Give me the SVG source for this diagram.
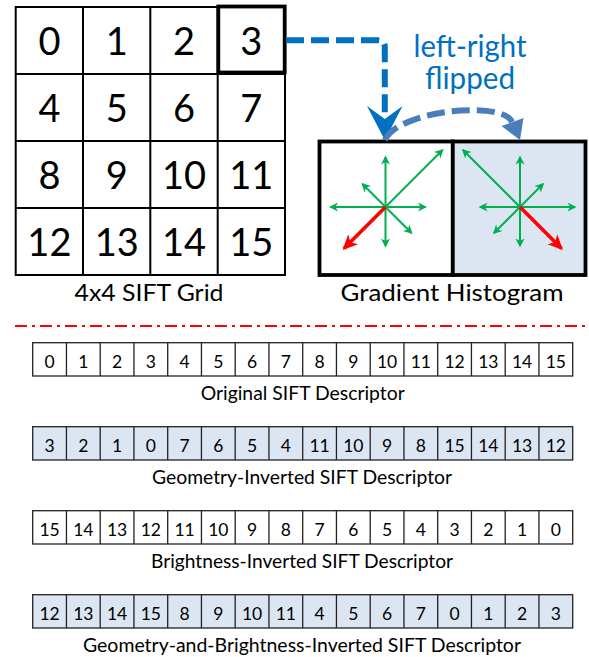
<svg xmlns="http://www.w3.org/2000/svg" width="589" height="657" viewBox="0 0 589 657">
<style>
  .t { font-family: Lato, "Open Sans", "Liberation Sans", sans-serif; fill: #000; text-anchor: middle; }
  .gd { font-size: 38px; }
  .lbl { font-size: 24px; }
  .dd { font-size: 17.5px; }
  .dl { font-size: 18.5px; }
  .blue { fill: #0070c0; font-size: 30px; }
  .gl { fill: none; stroke: #000; stroke-width: 2; }
  .cell { stroke: #222; stroke-width: 1.3; }
  .w { fill: #fff; }
  .b { fill: #dce6f2; }
  .g { stroke: #00b050; stroke-width: 2; marker-end: url(#gh); }
  .r { stroke: #ff0000; stroke-width: 3.5; marker-end: url(#rh); }
</style>
<defs>
  <marker id="gh" markerUnits="userSpaceOnUse" viewBox="-10 -6 13 12" markerWidth="13" markerHeight="12" refX="0" refY="0" orient="auto">
    <path d="M1.5,0 L-7.5,-4.5 L-5,0 L-7.5,4.5 Z" fill="#00b050"/>
  </marker>
  <marker id="rh" markerUnits="userSpaceOnUse" viewBox="-16 -9 20 18" markerWidth="20" markerHeight="18" refX="0" refY="0" orient="auto">
    <path d="M2,0 L-13,-7 L-9,0 L-13,7 Z" fill="#ff0000"/>
  </marker>
</defs>
<rect width="589" height="657" fill="#fff"/>

<g id="sift-grid">
  <rect x="15.7" y="7" width="269.3" height="268" class="gl"/>
  <path d="M83,7 V275 M150.3,7 V275 M217.7,7 V275 M15.7,74 H285 M15.7,141 H285 M15.7,208 H285" class="gl"/>
  <rect x="218.3" y="6.5" width="66.4" height="66" fill="none" stroke="#000" stroke-width="3.8"/>
  <g class="t gd">
    <text x="49.4" y="54.5">0</text><text x="116.7" y="54.5">1</text><text x="184" y="54.5">2</text><text x="251.3" y="54.5">3</text>
    <text x="49.4" y="121.5">4</text><text x="116.7" y="121.5">5</text><text x="184" y="121.5">6</text><text x="251.3" y="121.5">7</text>
    <text x="49.4" y="188.5">8</text><text x="116.7" y="188.5">9</text><text x="184" y="188.5">10</text><text x="251.3" y="188.5">11</text>
    <text x="49.4" y="255.5">12</text><text x="116.7" y="255.5">13</text><text x="184" y="255.5">14</text><text x="251.3" y="255.5">15</text>
  </g>
  <text class="t lbl" x="149" y="301" textLength="149" lengthAdjust="spacingAndGlyphs">4x4 SIFT Grid</text>
</g>

<g id="hist-left">
  <rect x="319.5" y="141.5" width="133.3" height="133.5" fill="#fff" stroke="#000" stroke-width="3.8"/>
  <line x1="385.5" y1="207" x2="385.5" y2="157" class="g"/>
  <line x1="385.5" y1="207" x2="385.5" y2="246" class="g"/>
  <line x1="385.5" y1="207" x2="330.5" y2="207" class="g"/>
  <line x1="385.5" y1="207" x2="425.5" y2="207" class="g"/>
  <line x1="385.5" y1="207" x2="442.5" y2="150" class="g"/>
  <line x1="385.5" y1="207" x2="362.5" y2="184" class="g"/>
  <line x1="385.5" y1="207" x2="411.5" y2="233" class="g"/>
  <line x1="385.5" y1="207" x2="344" y2="248.5" class="r"/>
</g>

<g id="hist-right">
  <rect x="452.8" y="141.5" width="132.7" height="133.5" fill="#dce6f2" stroke="#000" stroke-width="3.8"/>
  <line x1="520" y1="207" x2="520" y2="157" class="g"/>
  <line x1="520" y1="207" x2="520" y2="246" class="g"/>
  <line x1="520" y1="207" x2="575" y2="207" class="g"/>
  <line x1="520" y1="207" x2="480" y2="207" class="g"/>
  <line x1="520" y1="207" x2="463" y2="150" class="g"/>
  <line x1="520" y1="207" x2="543" y2="184" class="g"/>
  <line x1="520" y1="207" x2="494" y2="233" class="g"/>
  <line x1="520" y1="207" x2="561.5" y2="248.5" class="r"/>
</g>
<text id="hist-label" class="t lbl" x="452" y="301" textLength="223" lengthAdjust="spacingAndGlyphs">Gradient Histogram</text>

<g id="flip-label" class="t blue">
  <text x="470" y="56.5" textLength="113" lengthAdjust="spacingAndGlyphs">left-right</text>
  <text x="470" y="89" textLength="90" lengthAdjust="spacingAndGlyphs">flipped</text>
</g>

<g id="connectors">
  <path d="M286,40.3 H378 Q384.8,40.3 384.8,47 V119" fill="none" stroke="#0070c0" stroke-width="6" stroke-dasharray="18 7"/>
  <polygon points="384.8,140 367,106 384.8,119 402.6,106" fill="#0070c0"/>
  <path d="M385,140 C398,110 503,100 512,122" fill="none" stroke="#4a7ebb" stroke-width="6" stroke-dasharray="18 7"/>
  <polygon points="520,140 523.5,118 501.5,126" fill="#4a7ebb"/>
  <line x1="15" y1="326" x2="589" y2="326" stroke="#ff0000" stroke-width="2" stroke-dasharray="12 5 3 5"/>
</g>

<g id="desc-original">
  <rect x="32.7" y="342.7" width="540" height="33.3" class="cell w"/>
  <path d="M66.45,342.7V376M100.2,342.7V376M133.95,342.7V376M167.7,342.7V376M201.45,342.7V376M235.2,342.7V376M268.95,342.7V376M302.7,342.7V376M336.45,342.7V376M370.2,342.7V376M403.95,342.7V376M437.7,342.7V376M471.45,342.7V376M505.2,342.7V376M538.95,342.7V376" class="cell"/>
  <g class="t dd">
    <text x="49.6" y="367.5">0</text><text x="83.3" y="367.5">1</text><text x="117.1" y="367.5">2</text><text x="150.8" y="367.5">3</text>
    <text x="184.6" y="367.5">4</text><text x="218.3" y="367.5">5</text><text x="252.1" y="367.5">6</text><text x="285.8" y="367.5">7</text>
    <text x="319.6" y="367.5">8</text><text x="353.3" y="367.5">9</text><text x="387.1" y="367.5">10</text><text x="420.8" y="367.5">11</text>
    <text x="454.6" y="367.5">12</text><text x="488.3" y="367.5">13</text><text x="522.1" y="367.5">14</text><text x="555.8" y="367.5">15</text>
  </g>
  <text class="t dl" x="302.7" y="399.7" textLength="204" lengthAdjust="spacingAndGlyphs">Original SIFT Descriptor</text>
</g>

<g id="desc-geometry">
  <rect x="32.7" y="426.7" width="540" height="33.3" class="cell b"/>
  <path d="M66.45,426.7V460M100.2,426.7V460M133.95,426.7V460M167.7,426.7V460M201.45,426.7V460M235.2,426.7V460M268.95,426.7V460M302.7,426.7V460M336.45,426.7V460M370.2,426.7V460M403.95,426.7V460M437.7,426.7V460M471.45,426.7V460M505.2,426.7V460M538.95,426.7V460" class="cell"/>
  <g class="t dd">
    <text x="49.6" y="451.5">3</text><text x="83.3" y="451.5">2</text><text x="117.1" y="451.5">1</text><text x="150.8" y="451.5">0</text>
    <text x="184.6" y="451.5">7</text><text x="218.3" y="451.5">6</text><text x="252.1" y="451.5">5</text><text x="285.8" y="451.5">4</text>
    <text x="319.6" y="451.5">11</text><text x="353.3" y="451.5">10</text><text x="387.1" y="451.5">9</text><text x="420.8" y="451.5">8</text>
    <text x="454.6" y="451.5">15</text><text x="488.3" y="451.5">14</text><text x="522.1" y="451.5">13</text><text x="555.8" y="451.5">12</text>
  </g>
  <text class="t dl" x="302" y="483.7" textLength="300" lengthAdjust="spacingAndGlyphs">Geometry-Inverted SIFT Descriptor</text>
</g>

<g id="desc-brightness">
  <rect x="32.7" y="510.7" width="540" height="33.3" class="cell w"/>
  <path d="M66.45,510.7V544M100.2,510.7V544M133.95,510.7V544M167.7,510.7V544M201.45,510.7V544M235.2,510.7V544M268.95,510.7V544M302.7,510.7V544M336.45,510.7V544M370.2,510.7V544M403.95,510.7V544M437.7,510.7V544M471.45,510.7V544M505.2,510.7V544M538.95,510.7V544" class="cell"/>
  <g class="t dd">
    <text x="49.6" y="535.5">15</text><text x="83.3" y="535.5">14</text><text x="117.1" y="535.5">13</text><text x="150.8" y="535.5">12</text>
    <text x="184.6" y="535.5">11</text><text x="218.3" y="535.5">10</text><text x="252.1" y="535.5">9</text><text x="285.8" y="535.5">8</text>
    <text x="319.6" y="535.5">7</text><text x="353.3" y="535.5">6</text><text x="387.1" y="535.5">5</text><text x="420.8" y="535.5">4</text>
    <text x="454.6" y="535.5">3</text><text x="488.3" y="535.5">2</text><text x="522.1" y="535.5">1</text><text x="555.8" y="535.5">0</text>
  </g>
  <text class="t dl" x="302" y="567.7" textLength="302" lengthAdjust="spacingAndGlyphs">Brightness-Inverted SIFT Descriptor</text>
</g>

<g id="desc-both">
  <rect x="32.7" y="594.7" width="540" height="33.3" class="cell b"/>
  <path d="M66.45,594.7V628M100.2,594.7V628M133.95,594.7V628M167.7,594.7V628M201.45,594.7V628M235.2,594.7V628M268.95,594.7V628M302.7,594.7V628M336.45,594.7V628M370.2,594.7V628M403.95,594.7V628M437.7,594.7V628M471.45,594.7V628M505.2,594.7V628M538.95,594.7V628" class="cell"/>
  <g class="t dd">
    <text x="49.6" y="619.5">12</text><text x="83.3" y="619.5">13</text><text x="117.1" y="619.5">14</text><text x="150.8" y="619.5">15</text>
    <text x="184.6" y="619.5">8</text><text x="218.3" y="619.5">9</text><text x="252.1" y="619.5">10</text><text x="285.8" y="619.5">11</text>
    <text x="319.6" y="619.5">4</text><text x="353.3" y="619.5">5</text><text x="387.1" y="619.5">6</text><text x="420.8" y="619.5">7</text>
    <text x="454.6" y="619.5">0</text><text x="488.3" y="619.5">1</text><text x="522.1" y="619.5">2</text><text x="555.8" y="619.5">3</text>
  </g>
  <text class="t dl" x="302" y="651.7" textLength="438" lengthAdjust="spacingAndGlyphs">Geometry-and-Brightness-Inverted SIFT Descriptor</text>
</g>
</svg>
